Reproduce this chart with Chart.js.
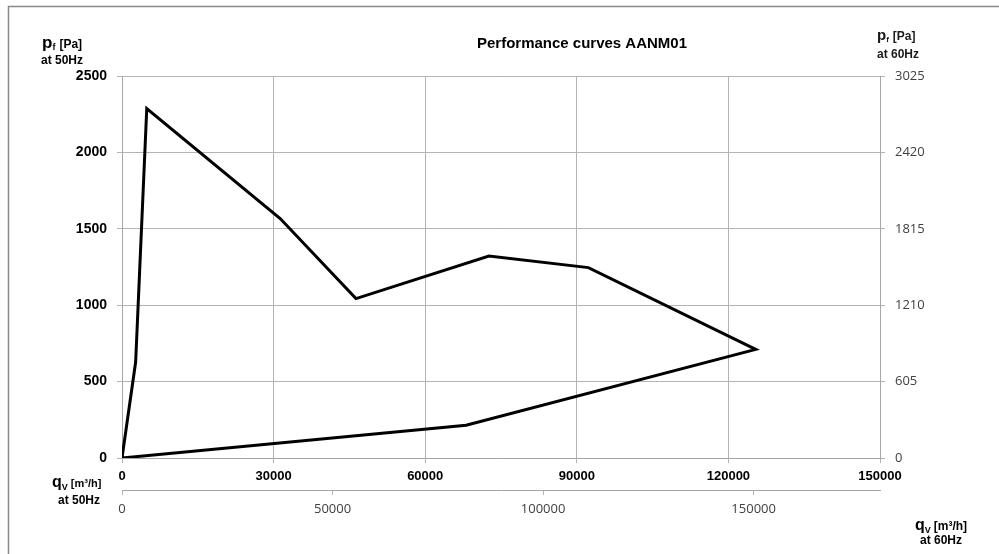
<!DOCTYPE html>
<html>
<head>
<meta charset="utf-8">
<script src="https://cdn.jsdelivr.net/npm/chart.js@4"></script>
<style>
  html, body { margin: 0; padding: 0; background: #fff; }
  #wrap { width: 999px; height: 554px; position: relative; }
</style>
</head>
<body>
<div id="wrap"><canvas id="perfChart"></canvas></div>
<script>
// curve points (q_V at 50Hz, p_f at 50Hz)
const flowValues = [0, 2700, 4900, 31300, 46300, 72600, 92300, 125400, 68100, 0];
const pressureValues = [0, 628, 2287, 1567, 1043, 1322, 1246, 711, 214, 0];

// axis settings
const flow50Max = 150000, flow50Step = 30000;
const flow60Max = 180000, flow60Step = 50000, flow60LastTick = 150000;
const press50Max = 2500, press50Step = 500;
const press60Max = 3025, press60Step = 605;

const points = flowValues.map((x, i) => ({ x: x, y: pressureValues[i] }));

const gridGrey = '#b3b3b3';
const plain = v => String(v);

// draws frame, title and the axis titles with sub/superscripts
const textPlugin = {
  id: 'texts',
  afterDraw(chart) {
    const c = chart.ctx;
    c.save();
    c.strokeStyle = '#888';
    c.lineWidth = 1.5;
    c.beginPath();
    c.moveTo(8.5, 554);
    c.lineTo(8.5, 6.5);
    c.lineTo(999, 6.5);
    c.stroke();

    c.fillStyle = '#000';
    c.textBaseline = 'alphabetic';
    c.textAlign = 'center';
    c.font = 'bold 15px "Liberation Sans", Arial, sans-serif';
    c.fillText('Performance curves AANM01', 582, 48);

    function pieces(x, y, parts) {
      c.textAlign = 'left';
      parts.forEach(p => {
        c.font = p.font;
        c.fillText(p.t, x, y + (p.dy || 0));
        x += c.measureText(p.t).width + (p.gap || 0);
      });
    }
    const F = '"Liberation Sans", Arial, sans-serif';
    // left pressure title
    pieces(42, 48, [
      { t: 'p', font: 'bold 17px ' + F },
      { t: 'f', font: 'bold 9px ' + F, dy: 2, gap: 4 },
      { t: '[Pa]', font: 'bold 12px ' + F }
    ]);
    c.font = 'bold 12px ' + F;
    c.textAlign = 'left';
    c.fillText('at 50Hz', 41, 64);

    // right pressure title
    c.fillStyle = '#1a1a1a';
    pieces(877, 40, [
      { t: 'p', font: 'bold 15px ' + F },
      { t: 'f', font: 'bold 8px ' + F, dy: 2, gap: 4 },
      { t: '[Pa]', font: 'bold 12px ' + F }
    ]);
    c.font = 'bold 12px ' + F;
    c.textAlign = 'left';
    c.fillText('at 60Hz', 877, 58);

    // bottom left flow title
    c.fillStyle = '#000';
    pieces(52, 487, [
      { t: 'q', font: 'bold 16px ' + F },
      { t: 'V', font: 'bold 9px ' + F, dy: 3, gap: 3 },
      { t: '[m³/h]', font: 'bold 11px ' + F }
    ]);
    c.font = 'bold 12px ' + F;
    c.textAlign = 'left';
    c.fillText('at 50Hz', 58, 504);

    // bottom right flow title
    pieces(915, 530, [
      { t: 'q', font: 'bold 16px ' + F },
      { t: 'V', font: 'bold 9px ' + F, dy: 3, gap: 3 },
      { t: '[m³/h]', font: 'bold 12px ' + F }
    ]);
    c.font = 'bold 12px ' + F;
    c.textAlign = 'left';
    c.fillText('at 60Hz', 920, 544);
    c.restore();
  }
};

new Chart(document.getElementById('perfChart').getContext('2d'), {
  type: 'scatter',
  data: {
    datasets: [{
      label: 'AANM01',
      data: points,
      showLine: true,
      borderColor: '#000',
      borderWidth: 3,
      pointRadius: 0,
      tension: 0,
      xAxisID: 'x',
      yAxisID: 'y'
    }]
  },
  options: {
    responsive: true,
    maintainAspectRatio: false,
    animation: false,
    layout: { padding: { top: 76, left: 0, right: 0, bottom: 0 } },
    plugins: {
      legend: { display: false },
      tooltip: { enabled: false },
      title: { display: false }
    },
    scales: {
      x: {
        type: 'linear',
        position: 'bottom',
        weight: 0,
        min: 0,
        max: flow50Max,
        afterFit: s => { s.height = 32; },
        ticks: {
          stepSize: flow50Step,
          callback: plain,
          padding: 6,
          color: '#000',
          font: { family: '"Liberation Sans", Arial, sans-serif', size: 13, weight: 'bold' },
          maxRotation: 0
        },
        grid: { color: gridGrey, tickLength: 5 },
        border: { color: '#a6a6a6' }
      },
      x60: {
        type: 'linear',
        position: 'bottom',
        display: true,
        weight: 1,
        min: 0,
        max: flow60Max,
        afterFit: s => { s.height = 64; },
        afterBuildTicks: s => {
          const t = [];
          for (let v = 0; v <= flow60LastTick; v += flow60Step) t.push({ value: v });
          s.ticks = t;
        },
        ticks: {
          callback: plain,
          padding: 6,
          color: '#404040',
          font: { family: '"Open Sans", sans-serif', size: 13 },
          maxRotation: 0
        },
        grid: { drawOnChartArea: false, color: gridGrey, tickLength: 5 },
        border: { color: '#a6a6a6' }
      },
      y: {
        type: 'linear',
        position: 'left',
        min: 0,
        max: press50Max,
        afterFit: s => { s.width = 122; },
        ticks: {
          stepSize: press50Step,
          callback: plain,
          padding: 10,
          color: '#000',
          font: { family: '"Liberation Sans", Arial, sans-serif', size: 14, weight: 'bold' }
        },
        grid: { color: gridGrey, tickLength: 5 },
        border: { color: '#a6a6a6' }
      },
      y60: {
        type: 'linear',
        position: 'right',
        display: true,
        min: 0,
        max: press60Max,
        afterFit: s => { s.width = 119; },
        ticks: {
          stepSize: press60Step,
          callback: plain,
          padding: 10,
          color: '#404040',
          font: { family: '"Open Sans", sans-serif', size: 13 }
        },
        grid: { drawOnChartArea: false, color: gridGrey, tickLength: 5 },
        border: { color: '#a6a6a6' }
      }
    }
  },
  plugins: [textPlugin]
});
</script>
</body>
</html>
